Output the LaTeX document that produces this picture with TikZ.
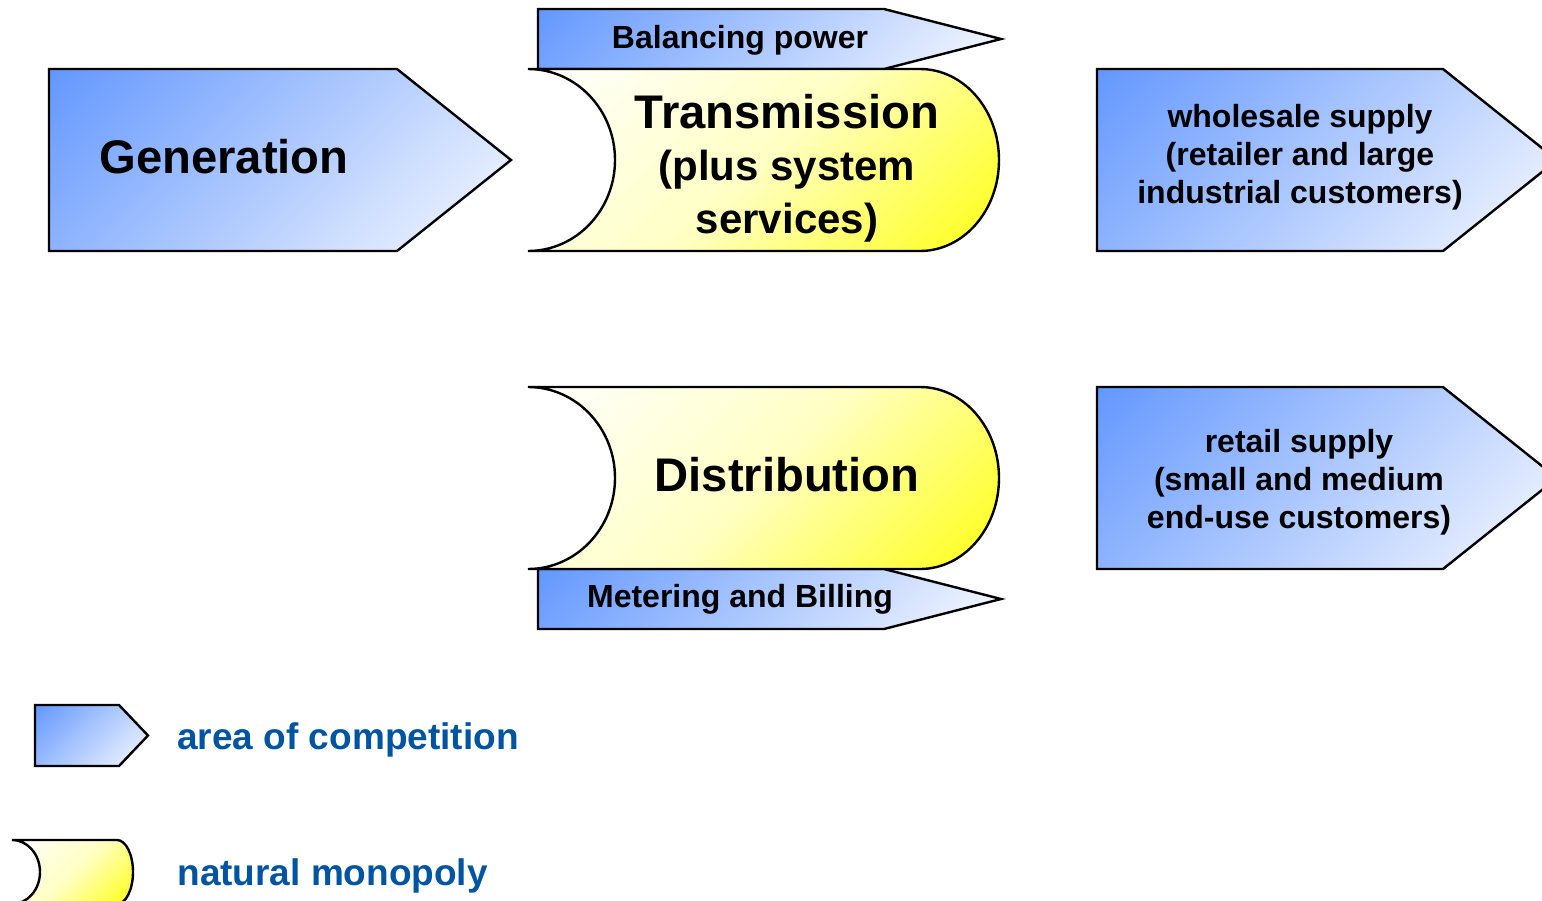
\documentclass[tikz,border=0pt]{standalone}
\usepackage{fontspec}
\setmainfont{Liberation Sans}
\definecolor{cblue}{RGB}{100,152,255}
\definecolor{cend}{RGB}{248,250,255}
\definecolor{cmidy}{RGB}{255,255,195}
\definecolor{cyel}{RGB}{255,255,20}
\definecolor{legblue}{RGB}{0,84,162}
\pgfdeclareverticalshading{bluegrad}{100bp}{color(0bp)=(cend); color(15bp)=(cend); color(85bp)=(cblue); color(100bp)=(cblue)}
\pgfdeclareverticalshading{yelgrad}{100bp}{color(0bp)=(cyel); color(15bp)=(cyel); color(50bp)=(cmidy); color(85bp)=(white); color(100bp)=(white)}
\newcommand{\subsz}{\fontsize{21}{24}\selectfont}
\tikzset{
 compbox/.style={draw=black, line width=1.2pt, line join=miter, shading=bluegrad, shading angle=45},
 monobox/.style={draw=black, line width=1.2pt, shading=yelgrad, shading angle=45},
 bigtxt/.style={font=\fontsize{23.6}{26.25}\selectfont\bfseries, align=center, inner sep=0pt},
 smalltxt/.style={font=\fontsize{16}{19}\selectfont\bfseries, align=center, inner sep=0pt},
 legtxt/.style={font=\fontsize{18.5}{22}\selectfont\bfseries, text=legblue, anchor=west, inner sep=0pt},
}
\begin{document}
\begin{tikzpicture}[x=0.5pt,y=-0.5pt]
\useasboundingbox (0,0) rectangle (1542,900);
\clip (0,0) rectangle (1542,900);
% competition shapes
\path[compbox] (49,69) -- (397,69) -- (511,160) -- (397,251) -- (49,251) -- cycle;
\path[compbox] (538,9) -- (884,9) -- (1001,39) -- (884,69) -- (538,69) -- cycle;
\path[compbox] (538,569) -- (884,569) -- (1001,599) -- (884,629) -- (538,629) -- cycle;
\path[compbox] (1097,69) -- (1443,69) -- (1557,160) -- (1443,251) -- (1097,251) -- cycle;
\path[compbox] (1097,387) -- (1443,387) -- (1557,478) -- (1443,569) -- (1097,569) -- cycle;
\path[compbox] (35,705) -- (119,705) -- (148,735.5) -- (119,766) -- (35,766) -- cycle;
% monopoly shapes
\path[monobox] (528,69) -- (920,69) .. controls (963.6,69) and (999,109.7) .. (999,160)
  .. controls (999,210.3) and (963.6,251) .. (920,251) -- (528,251)
  .. controls (576,251) and (615,210.3) .. (615,160)
  .. controls (615,109.7) and (576,69) .. (528,69) -- cycle;
\path[monobox] (528,387) -- (920,387) .. controls (963.6,387) and (999,427.7) .. (999,478)
  .. controls (999,528.3) and (963.6,569) .. (920,569) -- (528,569)
  .. controls (576,569) and (615,528.3) .. (615,478)
  .. controls (615,427.7) and (576,387) .. (528,387) -- cycle;
\path[monobox] (12,840) -- (117,840) .. controls (125.8,840) and (133,854.3) .. (133,872)
  .. controls (133,889.7) and (125.8,904) .. (117,904) -- (12,904)
  .. controls (27.5,904) and (40,889.7) .. (40,872)
  .. controls (40,854.3) and (27.5,840) .. (12,840) -- cycle;
% texts
\node[bigtxt] (gen) at (224,157) {Generation};
\node[bigtxt] (trans) at (787,168) {Transmission\\{\subsz (plus system}\\{\subsz services)}};
\node[bigtxt] (dist) at (787,475) {Distribution};
\node[smalltxt] (bal) at (740,40) {Balancing power};
\node[smalltxt] (met) at (740,599) {Metering and Billing};
\node[smalltxt] (whole) at (1300,157) {wholesale supply\\(retailer and large\\industrial customers)};
\node[smalltxt] (retail) at (1299,482) {retail supply\\(small and medium\\end-use customers)};
\node[legtxt] (lcomp) at (177,740) {area of competition};
\node[legtxt] (lmono) at (177,876) {natural monopoly};
\end{tikzpicture}
\end{document}
